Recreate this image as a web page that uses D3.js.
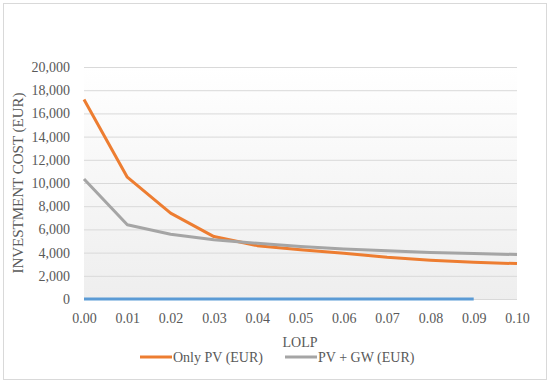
<!DOCTYPE html>
<html lang="en">
<head>
<meta charset="UTF-8">
<title>Investment cost vs LOLP</title>
<script src="https://d3js.org/d3.v7.min.js"></script>
<style>
  body { margin: 0; background: #fff; }
  text { font-family: "Liberation Serif", "Times New Roman", serif; fill: #595959; }
</style>
</head>
<body>
<script>
  // values
  const lolp = [0.00, 0.01, 0.02, 0.03, 0.04, 0.05, 0.06, 0.07, 0.08, 0.09, 0.10];
  const onlyPV = [17200, 10500, 7400, 5380, 4600, 4250, 3950, 3600, 3350, 3170, 3050];
  const pvGW = [10350, 6400, 5580, 5100, 4800, 4520, 4320, 4150, 4000, 3920, 3830];
  const lolpSeries = [0, 0.01, 0.02, 0.03, 0.04, 0.05, 0.06, 0.07, 0.08, 0.09]; // third series, ~0 on this scale
  const yTicks = [0, 2000, 4000, 6000, 8000, 10000, 12000, 14000, 16000, 18000, 20000];
  const series = [
    { name: "Only PV (EUR)", values: onlyPV, color: "#ED7D31" },
    { name: "PV + GW (EUR)", values: pvGW, color: "#A5A5A5" }
  ];

  const width = 550, height = 384;
  const plot = { left: 84, right: 517, top: 67, bottom: 299 };
  const font = '"Liberation Serif", "Times New Roman", serif';

  const svg = d3.select("body").append("svg")
    .attr("width", width).attr("height", height);

  // outer frame
  svg.append("rect")
    .attr("x", 3.5).attr("y", 3.5)
    .attr("width", 543).attr("height", 376)
    .attr("fill", "#fff").attr("stroke", "#d9d9d9");

  const grad = svg.append("defs").append("linearGradient")
    .attr("id", "bg").attr("x1", 0).attr("y1", 0).attr("x2", 0).attr("y2", 1);
  grad.append("stop").attr("offset", "0%").attr("stop-color", "#ffffff");
  grad.append("stop").attr("offset", "100%").attr("stop-color", "#eeeeee");

  const x = d3.scaleLinear().domain([0, 0.10]).range([plot.left, plot.right]);
  const y = d3.scaleLinear().domain([0, 20000]).range([plot.bottom, plot.top]);

  svg.append("rect")
    .attr("x", plot.left).attr("y", plot.top)
    .attr("width", plot.right - plot.left).attr("height", plot.bottom - plot.top)
    .attr("fill", "url(#bg)");

  // gridlines + y labels
  const yAxis = d3.axisLeft(y).tickValues(yTicks)
    .tickFormat(d3.format(",")).tickSize(-(plot.right - plot.left)).tickPadding(14);
  svg.append("g")
    .attr("transform", `translate(${plot.left},0)`)
    .call(yAxis)
    .attr("font-family", font).attr("font-size", 14)
    .call(g => g.select(".domain").remove())
    .call(g => g.selectAll("line").attr("stroke", "#d9d9d9"))
    .call(g => g.selectAll("text").attr("fill", "#595959"));

  // x labels
  const xAxis = d3.axisBottom(x).tickValues(lolp).tickFormat(d3.format(".2f"))
    .tickSize(0).tickPadding(14);
  svg.append("g")
    .attr("transform", `translate(0,${plot.bottom})`)
    .call(xAxis)
    .attr("font-family", font).attr("font-size", 14)
    .call(g => g.select(".domain").remove())
    .call(g => g.selectAll("text").attr("fill", "#595959"));

  const line = d3.line().x((d, i) => x(lolp[i])).y(d => y(d));

  svg.append("path")
    .datum(lolpSeries)
    .attr("d", line)
    .attr("fill", "none").attr("stroke", "#5B9BD5").attr("stroke-width", 3);

  series.forEach(s => {
    svg.append("path")
      .datum(s.values)
      .attr("d", line)
      .attr("fill", "none")
      .attr("stroke", s.color)
      .attr("stroke-width", 3)
      .attr("stroke-linejoin", "round");
  });

  // axis titles
  svg.append("text")
    .attr("transform", "translate(23,183) rotate(-90)")
    .attr("text-anchor", "middle")
    .attr("font-size", 15)
    .text("INVESTMENT COST (EUR)");

  svg.append("text")
    .attr("x", 300).attr("y", 347)
    .attr("text-anchor", "middle")
    .attr("font-size", 14)
    .text("LOLP");

  // legend
  const legendX = [140, 285];
  series.forEach((s, i) => {
    const g = svg.append("g").attr("transform", `translate(${legendX[i]},357)`);
    g.append("line").attr("x1", 0).attr("x2", 32)
      .attr("stroke", s.color).attr("stroke-width", 3);
    g.append("text").attr("x", 33).attr("y", 5)
      .attr("font-size", 14).text(s.name);
  });
</script>
</body>
</html>
